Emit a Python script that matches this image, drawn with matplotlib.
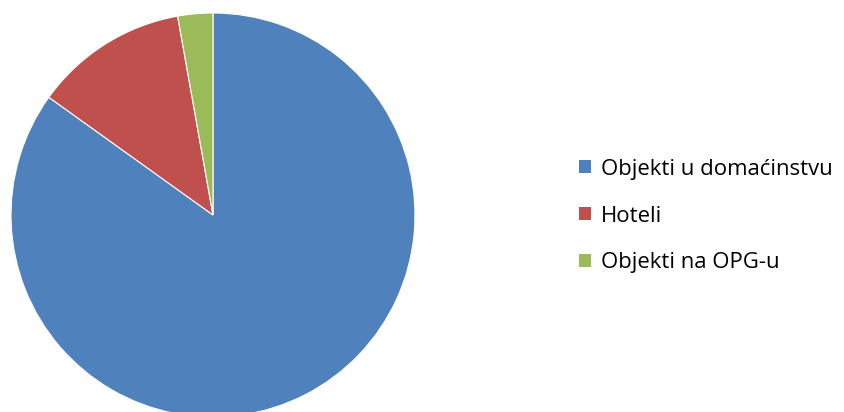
import matplotlib.pyplot as plt
from matplotlib.patches import Patch

# shares (percent)
labels = ['Objekti u domaćinstvu', 'Hoteli', 'Objekti na OPG-u']
shares = [84.9, 12.3, 2.8]
colors = ['#4F81BD', '#C0504D', '#9BBB59']

W, H = 844, 412
fig = plt.figure(figsize=(W / 100, H / 100), dpi=100)

# pie centre and radius in pixels
cx, cy, r = 213, 215, 202
ax = fig.add_axes([(cx - r) / W, (H - cy - r) / H, 2 * r / W, 2 * r / H])
ax.pie(shares, colors=colors, startangle=90, counterclock=False,
       wedgeprops=dict(edgecolor='white', linewidth=0.8))
ax.set_xlim(-1, 1)
ax.set_ylim(-1, 1)
ax.set_aspect('equal')
ax.axis('off')

handles = [Patch(facecolor=c, edgecolor='none') for c in colors]
fig.legend(handles, labels, loc='center left',
           bbox_to_anchor=(559 / W, 1 - 216 / H), frameon=False,
           prop={'family': 'Open Sans', 'size': 15.9},
           handlelength=0.53, handleheight=0.53, handletextpad=0.45,
           labelspacing=1.17)

fig.savefig('out.png', dpi=100)
